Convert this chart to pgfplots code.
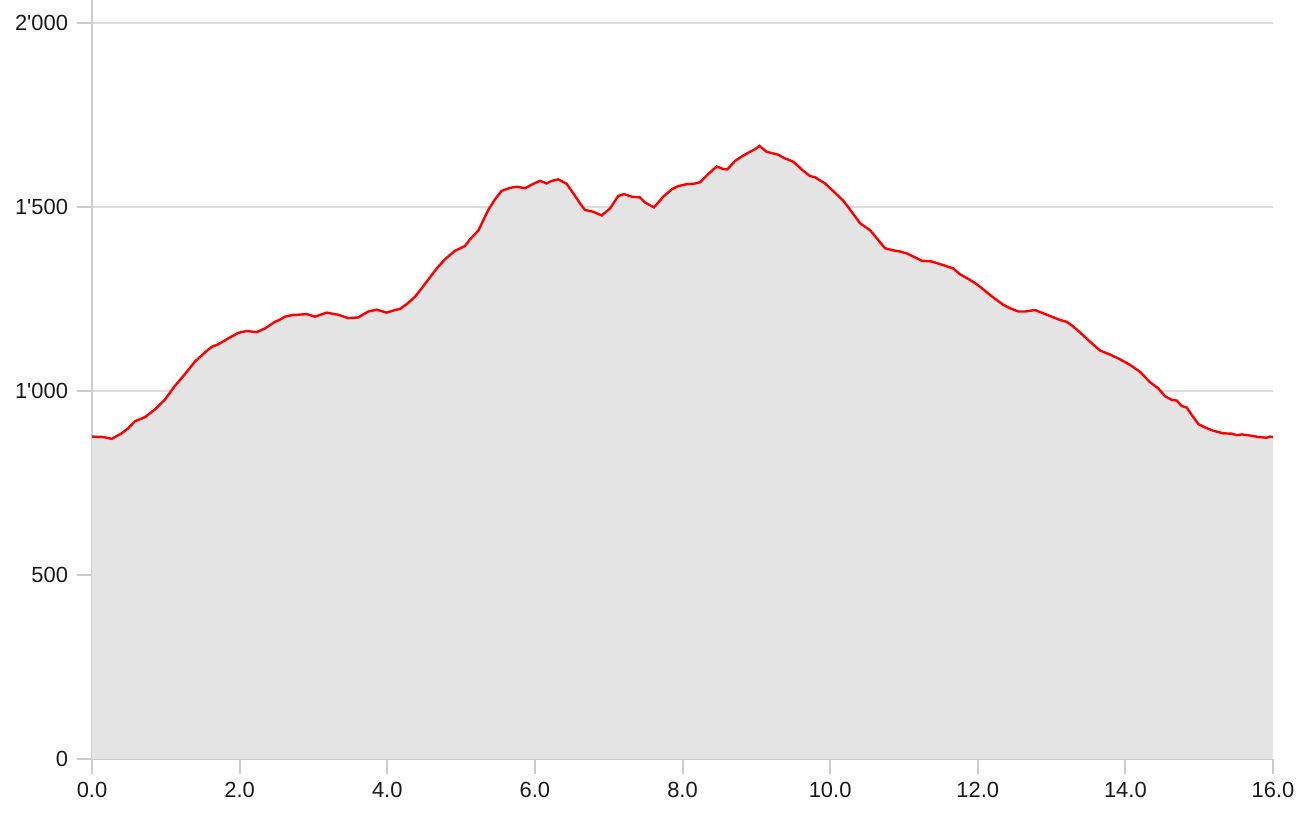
\documentclass[border=0pt]{standalone}
\usepackage{fontspec}
\setmainfont{Liberation Sans}
\usepackage{pgfplots}
\usepackage{pgfplotstable}
\pgfplotsset{compat=1.18}

\definecolor{areafill}{HTML}{E4E4E4}
\definecolor{gridgray}{HTML}{DCDCDC}
\definecolor{axisgray}{HTML}{CCCCCC}
\definecolor{profilered}{HTML}{FF0000}

% distance (km) vs elevation (m)
\pgfplotstableread{
x y
0.000 876
0.153 875
0.267 870
0.402 885
0.492 899
0.583 918
0.718 929
0.854 950
0.989 977
1.124 1014
1.260 1046
1.395 1080
1.531 1105
1.622 1120
1.711 1127
1.847 1143
1.982 1158
2.096 1163
2.231 1160
2.344 1170
2.479 1188
2.547 1194
2.615 1202
2.727 1207
2.773 1207
2.909 1209
3.021 1202
3.180 1213
3.337 1207
3.472 1198
3.608 1200
3.743 1216
3.857 1221
3.993 1213
4.105 1220
4.173 1223
4.264 1236
4.376 1256
4.489 1285
4.579 1309
4.670 1333
4.782 1358
4.918 1381
5.053 1394
5.121 1412
5.234 1436
5.369 1492
5.460 1521
5.551 1544
5.663 1552
5.754 1555
5.866 1551
5.979 1563
6.070 1571
6.160 1564
6.228 1571
6.318 1575
6.431 1563
6.521 1537
6.612 1510
6.679 1492
6.792 1487
6.905 1477
7.018 1496
7.130 1530
7.208 1535
7.312 1528
7.424 1526
7.492 1512
7.614 1499
7.740 1528
7.854 1548
7.943 1557
8.057 1562
8.147 1563
8.237 1567
8.350 1590
8.464 1610
8.553 1603
8.607 1602
8.711 1625
8.824 1640
8.915 1650
8.982 1657
9.041 1666
9.141 1650
9.298 1642
9.389 1632
9.502 1623
9.615 1602
9.727 1584
9.795 1581
9.931 1564
10.043 1543
10.179 1517
10.292 1487
10.405 1456
10.540 1437
10.653 1410
10.744 1388
10.834 1383
10.947 1379
11.038 1374
11.150 1363
11.241 1354
11.376 1352
11.489 1345
11.669 1333
11.760 1317
11.895 1302
12.008 1287
12.166 1261
12.347 1234
12.437 1225
12.550 1216
12.641 1216
12.776 1220
12.889 1211
13.002 1202
13.115 1193
13.205 1188
13.295 1175
13.386 1159
13.521 1134
13.657 1110
13.792 1099
13.928 1086
14.063 1071
14.199 1052
14.334 1024
14.447 1007
14.537 986
14.628 976
14.696 974
14.764 959
14.831 955
14.899 935
14.989 910
15.079 901
15.192 892
15.327 885
15.441 884
15.509 880
15.577 882
15.689 879
15.802 875
15.915 873
15.960 876
16.000 875
}\profile

\begin{document}
\begin{tikzpicture}
\useasboundingbox (-46bp,-33.5bp) rectangle (611.5bp,379.5bp);
\begin{axis}[
  at={(0,0)},anchor=south west,
  scale only axis,
  width=590.5bp,height=379.5bp,
  xmin=0,xmax=16,ymin=0,ymax=2062.5,
  enlargelimits=false,
  axis x line=bottom,axis y line=left,
  axis line style={-,draw=axisgray,line width=1bp},
  xtick={0,2,...,16},
  ytick={0,500,1000,1500,2000},
  tick align=outside,
  major tick length=7.5bp,
  tick style={draw=axisgray,line width=1bp},
  ymajorgrids,
  major grid style={draw=gridgray,line width=0.8bp},
  tick label style={font=\fontsize{11}{13}\selectfont,text=black!90},
  /pgf/number format/assume math mode=true,
  xticklabel style={yshift=-0.5bp,/pgf/number format/.cd,fixed,fixed zerofill,precision=1},
  yticklabel style={xshift=-1bp,/pgf/number format/.cd,fixed,1000 sep={\textquotesingle}},
]
\addplot[fill=areafill,draw=none] table[x=x,y=y] {\profile} \closedcycle;
\addplot[profilered,line width=1.2bp] table[x=x,y=y] {\profile};
\end{axis}
\end{tikzpicture}
\end{document}
